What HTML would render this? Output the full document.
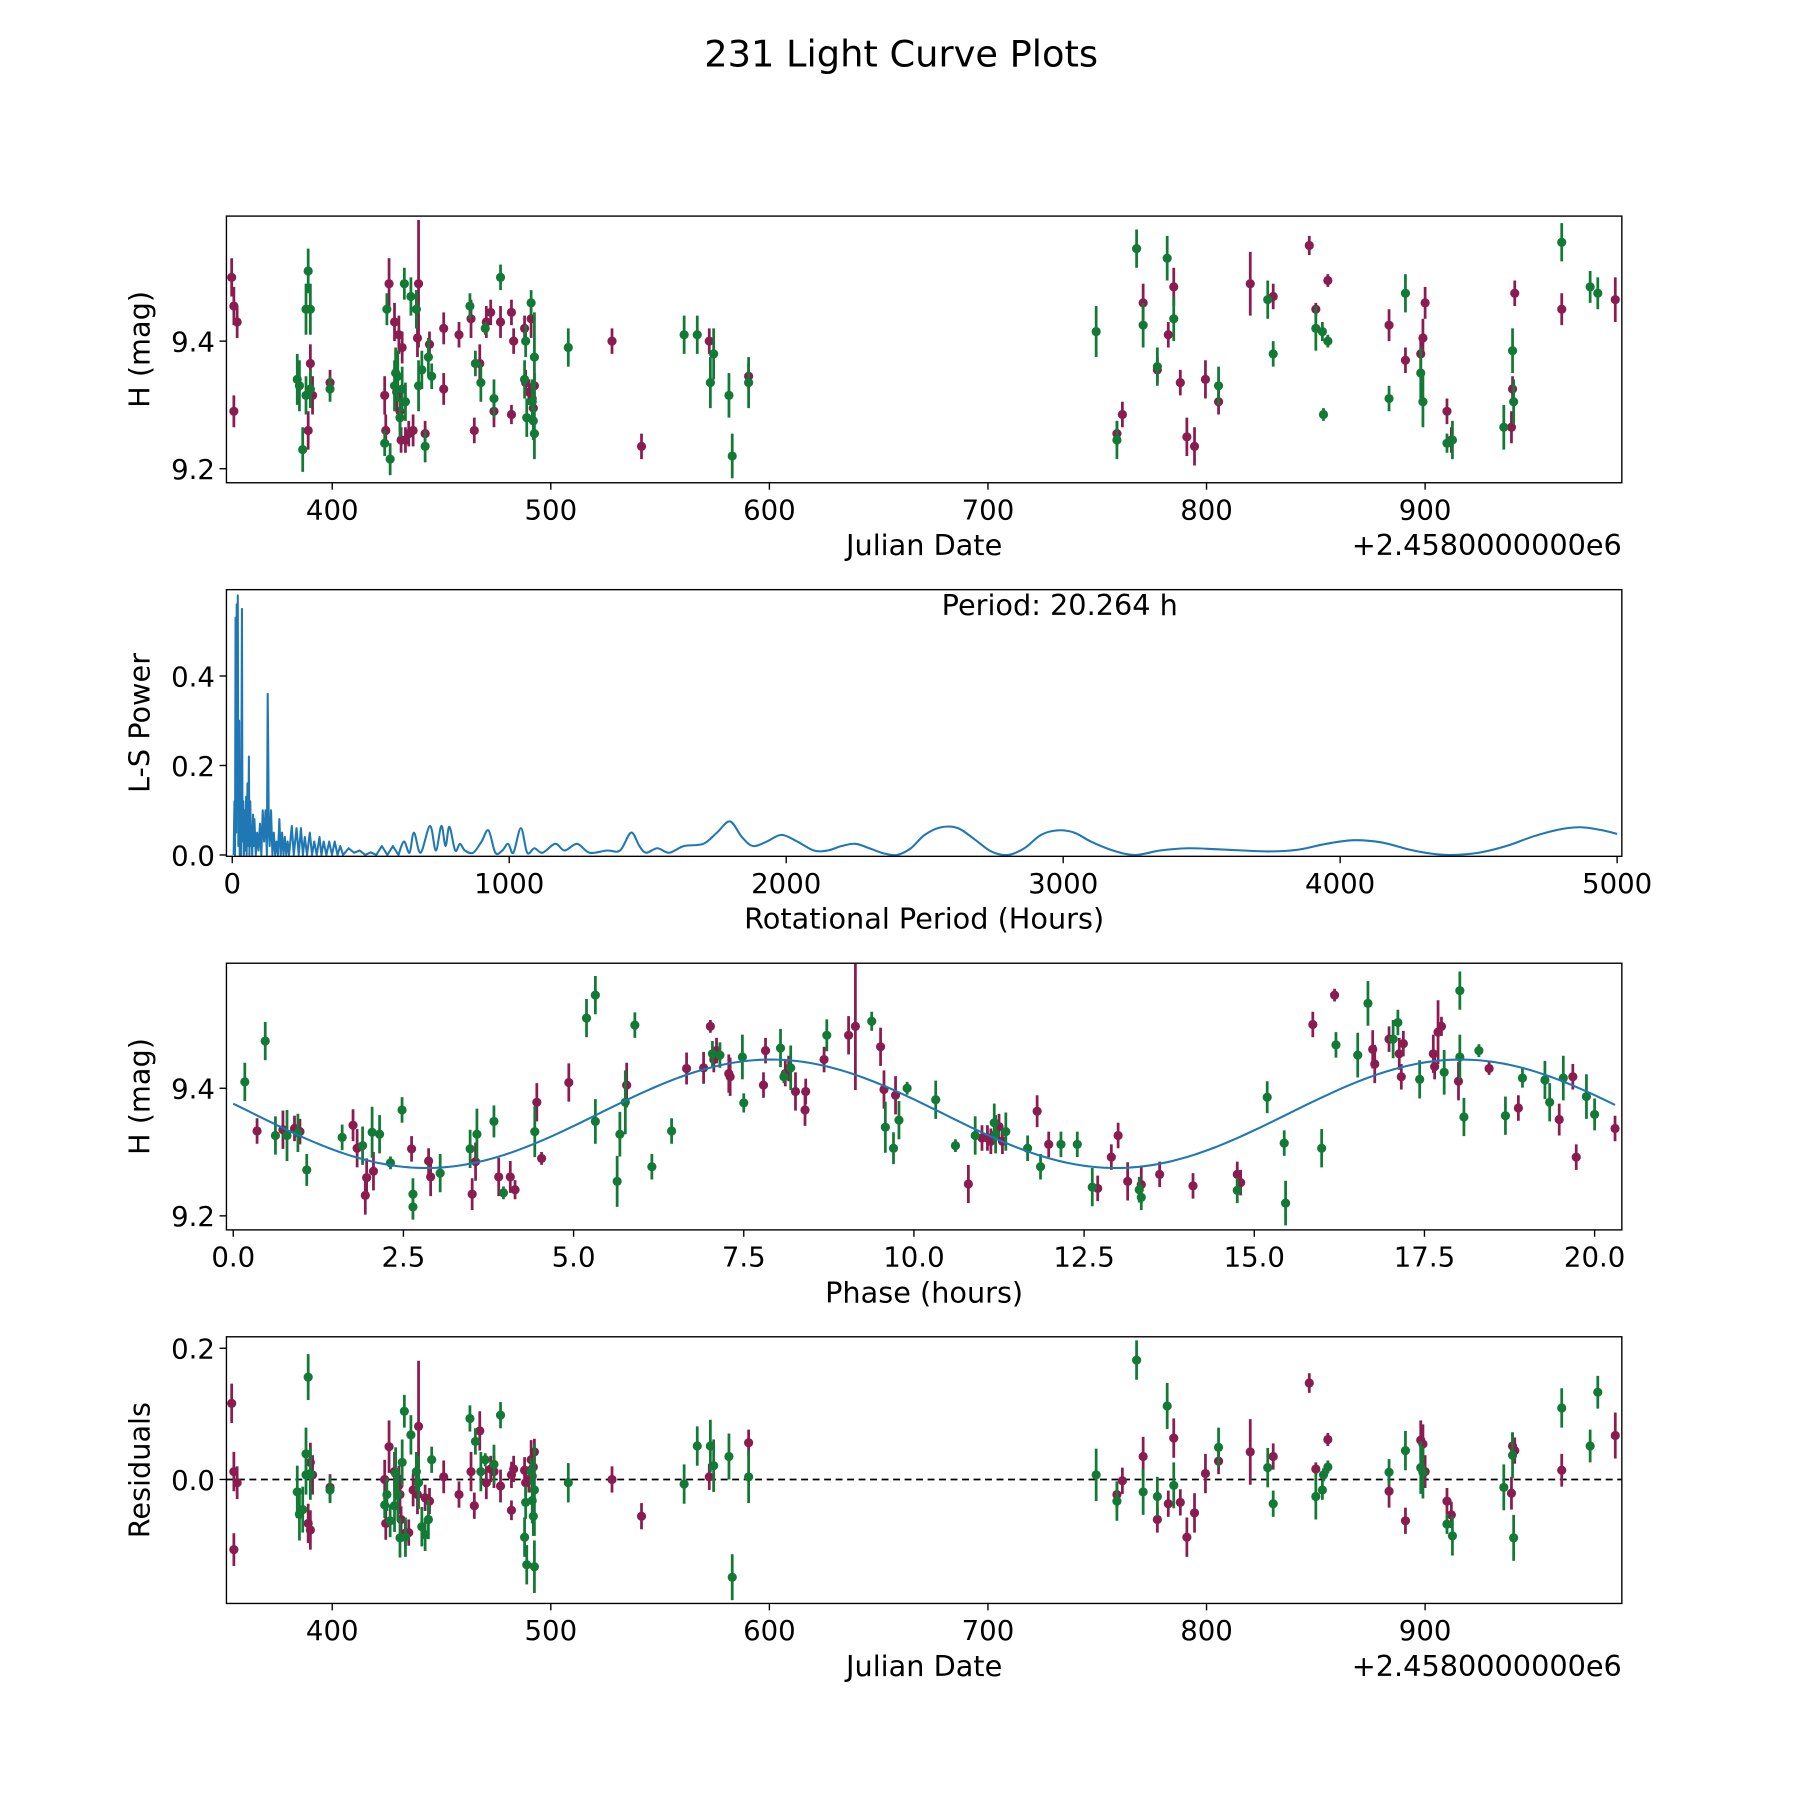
<!DOCTYPE html>
<html><head><meta charset="utf-8"><title>231 Light Curve Plots</title>
<style>html,body{margin:0;padding:0;background:#fff;}svg{display:block;}
text{font-family:"DejaVu Sans","Liberation Sans",sans-serif;fill:#000;}</style></head>
<body>
<svg id="fig" width="1800" height="1800" viewBox="0 0 1566 1566" xmlns="http://www.w3.org/2000/svg">
<rect width="1566" height="1566" fill="#fff"/>
<text x="784" y="58" font-size="32" text-anchor="middle">231 Light Curve Plots</text>
</svg>
<script>
// ---- data: raw light curve [jd, mag, err]
const lcMaroon=[[354,9.50,.03],[355,9.455,.03],[356.5,9.43,.025],[355,9.29,.025],[389,9.26,.03],[390,9.365,.03],[391,9.315,.03],[399,9.335,.02],[424,9.315,.03],[424.5,9.26,.025],[426,9.49,.04],[428.5,9.43,.03],[430.5,9.41,.03],[432,9.39,.025],[429.5,9.32,.03],[431,9.29,.03],[431.5,9.245,.02],[433.5,9.245,.02],[435,9.255,.02],[437,9.26,.025],[439.5,9.49,.1],[439,9.405,.03],[442.5,9.255,.02],[444.5,9.395,.02],[451,9.42,.025],[451,9.325,.025],[458,9.41,.02],[463.5,9.435,.03],[465,9.26,.02],[467.5,9.365,.03],[470.5,9.43,.025],[472.5,9.445,.02],[474,9.29,.025],[477,9.43,.025],[482,9.445,.02],[482,9.285,.015],[483,9.40,.02],[488,9.42,.02],[488.5,9.335,.02],[490,9.32,.02],[491,9.435,.03],[491.5,9.31,.02],[492.5,9.33,.02],[492,9.295,.02],[528,9.40,.02],[541.5,9.235,.02],[572.5,9.40,.02],[590.5,9.345,.02],
[759,9.255,.02],[761.5,9.285,.02],[771,9.46,.03],[777.5,9.355,.02],[782.5,9.41,.02],[785,9.485,.03],[788,9.335,.02],[791,9.25,.03],[794.5,9.235,.03],[799.5,9.34,.03],[805.5,9.305,.02],[820,9.49,.05],[830.5,9.47,.02],[847,9.55,.015],[850,9.45,.01],[855.5,9.495,.01],[883.5,9.425,.025],[891,9.37,.02],[898,9.38,.03],[899,9.405,.03],[900,9.46,.025],[910,9.29,.02],[912,9.245,.02],[940,9.325,.02],[939.5,9.265,.025],[941,9.475,.02],[962.5,9.45,.025],[987,9.465,.035]];
const lcGreen=[[384,9.34,.04],[385,9.33,.04],[386.5,9.23,.035],[388,9.45,.04],[389,9.51,.035],[390,9.45,.04],[388,9.315,.03],[390,9.325,.03],[399,9.325,.02],[424,9.24,.02],[425,9.45,.025],[426.5,9.215,.025],[428.5,9.33,.04],[429,9.35,.04],[430,9.345,.04],[431,9.28,.03],[432,9.325,.035],[433,9.49,.025],[433.5,9.305,.03],[436,9.47,.03],[438.5,9.45,.03],[439.5,9.33,.04],[442.5,9.235,.025],[441,9.355,.03],[444,9.375,.03],[445.5,9.345,.02],[463,9.455,.02],[465.5,9.365,.02],[468,9.335,.03],[470,9.42,.01],[474,9.31,.03],[477,9.50,.02],[488,9.34,.03],[488.5,9.40,.025],[489,9.28,.03],[491,9.46,.02],[491.5,9.305,.035],[492,9.275,.03],[492.5,9.375,.07],[492.5,9.255,.04],[508,9.39,.03],[561,9.41,.03],[567,9.41,.03],[573,9.335,.04],[574.5,9.38,.04],[581.5,9.315,.035],[583,9.22,.035],[590.5,9.335,.04],
[749.5,9.415,.04],[759,9.245,.03],[768,9.545,.03],[771,9.425,.035],[777.5,9.36,.03],[782,9.53,.035],[785,9.435,.035],[805.5,9.33,.03],[828,9.465,.03],[830.5,9.38,.02],[850,9.42,.035],[853,9.415,.015],[853.5,9.285,.01],[855.5,9.40,.01],[883.5,9.31,.02],[891,9.475,.03],[898,9.35,.04],[899,9.305,.04],[910,9.24,.015],[912.5,9.245,.03],[936,9.265,.035],[940,9.385,.035],[940.5,9.305,.035],[962.5,9.555,.03],[975.5,9.485,.025],[979,9.475,.025]];
// ---- residuals [jd, residual, err]
const resMaroon=[[354,.116,.03],[355,.012,.03],[355,-.107,.025],[356.5,-.005,.025],[389,-.067,.03],[390,.026,.03],[390,-.077,.03],[391,.007,.03],[399,-.012,.02],[424,0,.03],[424.5,-.067,.025],[426,.05,.04],[428.5,.012,.03],[430.5,-.009,.03],[431,-.023,.03],[431.5,-.061,.02],[433.5,-.082,.02],[435,-.081,.02],[437,-.016,.025],[439.5,.081,.1],[439,-.023,.03],[442.5,-.028,.02],[444.5,-.033,.02],[451,.004,.025],[458,-.023,.02],[463.5,.012,.03],[465,-.04,.02],[467.5,.074,.03],[470.5,-.005,.025],[472.5,.016,.02],[474,.012,.025],[477,-.01,.025],[482,.007,.02],[482,-.047,.015],[483,.016,.02],[488,.014,.02],[488.5,-.005,.02],[490,0,.02],[491,.03,.03],[491.5,.005,.02],[492.5,.042,.02],[492,.019,.02],[528,0,.02],[541.5,-.056,.02],[572.5,.004,.02],[590.5,.056,.02],
[759,-.023,.02],[761.5,-.002,.02],[771,.035,.03],[777.5,-.061,.02],[782.5,-.037,.02],[785,.063,.03],[788,-.035,.02],[791,-.088,.03],[794.5,-.051,.03],[799.5,.009,.03],[805.5,.028,.02],[820,.042,.05],[830.5,.035,.02],[847,.147,.015],[850,.016,.01],[855.5,.061,.01],[883.5,-.018,.025],[891,-.063,.02],[898,.06,.03],[899,.054,.03],[900,.012,.025],[910,-.033,.02],[912,-.054,.02],[940,.051,.02],[939.5,-.021,.025],[941,.044,.02],[962.5,.014,.025],[987,.067,.035]];
const resGreen=[[384,-.019,.04],[385,-.053,.04],[386.5,-.046,.035],[388,.039,.04],[389,.156,.035],[390,.009,.04],[388,.007,.03],[390,.007,.03],[399,-.016,.02],[424,-.039,.02],[425,-.023,.025],[426.5,-.063,.025],[428.5,-.04,.04],[429,.009,.04],[430,-.023,.04],[431,-.089,.03],[432,.026,.035],[433,.104,.025],[433.5,-.088,.03],[436,.068,.03],[438.5,.012,.03],[439.5,-.005,.04],[442.5,-.084,.025],[441,-.072,.03],[444,-.061,.03],[445.5,.03,.02],[463,.093,.02],[465.5,.058,.02],[468,.012,.03],[470,.03,.01],[474,.023,.03],[477,.098,.02],[488,-.088,.03],[488.5,-.035,.025],[489,-.13,.03],[491,.012,.02],[491.5,-.032,.035],[492,-.056,.03],[492.5,-.016,.07],[492.5,-.133,.04],[508,-.005,.03],[561,-.007,.03],[567,.051,.03],[573,.051,.04],[574.5,.021,.04],[581.5,.035,.035],[583,-.149,.035],[590.5,.004,.04],
[749.5,.007,.04],[759,-.033,.03],[768,.182,.03],[771,-.019,.035],[777.5,-.026,.03],[782,.112,.035],[785,-.009,.035],[805.5,.049,.03],[828,.018,.03],[830.5,-.037,.02],[850,-.026,.035],[853,-.016,.015],[853.5,.007,.01],[855.5,.019,.01],[883.5,.011,.02],[891,.044,.03],[898,.018,.04],[899,.011,.04],[910,-.068,.015],[912.5,-.086,.03],[936,-.012,.035],[940,.037,.035],[940.5,-.089,.035],[962.5,.109,.03],[975.5,.051,.025],[979,.133,.025]];
// ---- phased [phase, mag, err]
const phMaroon=[[.35,9.333,.02],[.73,9.335,.03],[.9,9.337,.02],[.98,9.332,.02],[1.76,9.342,.025],[1.82,9.306,.03],[1.94,9.232,.03],[1.96,9.26,.03],[2.06,9.27,.03],[2.62,9.305,.02],[2.87,9.286,.02],[2.9,9.261,.03],[3.51,9.234,.025],[3.56,9.285,.03],[3.9,9.261,.03],[4.07,9.261,.025],[4.14,9.241,.015],[4.46,9.378,.03],[4.53,9.29,.01],[4.93,9.409,.03],[5.78,9.405,.035],[6.66,9.431,.025],[6.91,9.432,.025],[7.01,9.497,.01],[7.06,9.445,.02],[7.1,9.459,.02],[7.28,9.423,.03],[7.3,9.418,.03],[7.79,9.405,.02],[7.82,9.459,.02],[8.11,9.423,.02],[8.16,9.431,.02],[8.26,9.395,.03],[8.4,9.366,.025],[8.41,9.395,.02],[8.68,9.445,.02],[9.04,9.483,.03],[9.14,9.497,.1],[9.51,9.465,.03],[9.56,9.398,.03],[9.73,9.389,.03],[10.8,9.25,.03],[11.0,9.322,.02],[11.08,9.322,.02],[11.13,9.317,.02],[11.25,9.34,.02],[11.3,9.317,.02],[11.81,9.364,.025],[11.98,9.312,.02],[12.7,9.243,.02],[12.9,9.292,.02],[13.0,9.326,.02],[13.14,9.254,.03],[13.34,9.249,.03],[13.61,9.265,.02],[14.1,9.247,.02],[14.75,9.265,.02],[14.8,9.252,.02],[15.86,9.5,.02],[16.18,9.546,.01],[16.74,9.461,.03],[16.77,9.438,.03],[16.98,9.477,.02],[17.13,9.454,.025],[17.16,9.418,.02],[17.19,9.47,.02],[17.63,9.454,.03],[17.65,9.434,.02],[17.7,9.488,.05],[17.75,9.497,.015],[18.0,9.411,.03],[18.45,9.431,.01],[18.88,9.369,.02],[19.48,9.351,.025],[19.68,9.418,.02],[19.73,9.292,.02],[20.3,9.337,.02]];
const phGreen=[[.17,9.41,.03],[.47,9.474,.03],[.62,9.326,.03],[.79,9.326,.04],[.95,9.33,.03],[1.08,9.272,.025],[1.6,9.323,.02],[1.9,9.31,.03],[2.04,9.331,.04],[2.15,9.328,.03],[2.31,9.283,.01],[2.48,9.366,.02],[2.64,9.234,.025],[2.64,9.214,.02],[3.04,9.267,.03],[3.48,9.305,.03],[3.58,9.328,.04],[3.83,9.348,.025],[3.97,9.236,.01],[4.43,9.332,.04],[5.19,9.51,.03],[5.32,9.546,.03],[5.32,9.348,.035],[5.64,9.254,.04],[5.68,9.328,.035],[5.76,9.378,.05],[5.9,9.499,.02],[6.15,9.277,.02],[6.44,9.333,.02],[7.04,9.454,.02],[7.15,9.452,.02],[7.48,9.449,.035],[7.5,9.377,.015],[8.04,9.463,.03],[8.09,9.418,.01],[8.19,9.432,.035],[8.72,9.483,.025],[9.38,9.505,.015],[9.58,9.339,.04],[9.7,9.306,.025],[9.78,9.35,.03],[9.9,9.4,.01],[10.32,9.382,.03],[10.61,9.31,.01],[10.9,9.326,.03],[11.18,9.346,.03],[11.2,9.328,.03],[11.35,9.332,.03],[11.67,9.306,.02],[11.86,9.277,.02],[12.16,9.312,.02],[12.4,9.312,.02],[12.62,9.245,.03],[13.31,9.241,.02],[13.34,9.229,.02],[14.75,9.24,.02],[15.19,9.386,.025],[15.44,9.314,.02],[15.46,9.22,.035],[15.99,9.306,.03],[16.2,9.468,.02],[16.52,9.452,.035],[16.67,9.533,.035],[17.04,9.477,.03],[17.11,9.503,.02],[17.43,9.414,.03],[17.79,9.425,.035],[18.02,9.553,.03],[18.02,9.449,.035],[18.08,9.355,.03],[18.3,9.459,.01],[18.69,9.357,.03],[18.94,9.416,.015],[19.27,9.413,.03],[19.34,9.378,.03],[19.54,9.416,.035],[19.88,9.387,.035],[20.0,9.359,.025]];
// ---- sinusoid fit parameters
const fitMean=9.36, fitAmp=0.085, fitHalfPeriod=10.132, fitPeakPhase=7.9;
// ---- periodogram [period (h), power]
const lsSpiky=[[5,0],[8,.12],[10,0],[12,.53],[14,.05],[16,.56],[18,.1],[20,.58],[22,.02],[25,.3],[27,0],[30,.2],[32,0],[35,.55],[37,.03],[40,.12],[42,0],[45,.1],[48,.01],[50,.13],[52,0],[55,.16],[58,.02],[60,.22],[62,0],[65,.12],[68,.02],[70,.06],[72,0],[75,.09],[78,.02],[80,.08],[85,0],[90,.05],[95,.01],[100,.07],[105,0],[110,.1],[115,.03],[120,.1],[125,0],[128,.36],[130,.22],[132,.05],[135,.02],[140,.1],[145,0],[150,.05],[155,0],[160,.03],[165,0],[170,.08],[175,0],[180,.05],[185,0],[190,.04],[195,0],[200,.03],[205,0],[215,.065],[222,0],[232,.06],[240,0],[248,.06],[255,0],[262,.04],[270,0],[280,.05],[288,0],[296,.03],[305,0],[315,.04],[322,0],[330,.03],[340,0],[350,.03],[360,0],[370,.03],[380,0],[390,.02],[400,0],[420,.015],[440,.005],[460,.01],[480,0],[500,.006],[520,0],[540,.02],[560,0],[580,.02],[600,0]];
const lsSmooth=[[620,.03],[640,.005],[656,.05],[680,.005],[714,.065],[735,.01],[755,.065],[770,.02],[784,.063],[805,.01],[822,.025],[840,.01],[870,.005],[900,.03],[925,.055],[950,.005],[975,.01],[996,.025],[1015,.005],[1042,.06],[1065,.005],[1091,.015],[1120,.005],[1166,.025],[1200,.01],[1245,.025],[1290,.005],[1353,.01],[1400,.01],[1440,.05],[1470,.02],[1494,.005],[1535,.015],[1577,.005],[1631,.02],[1701,.025],[1750,.05],[1797,.075],[1840,.04],[1880,.02],[1930,.03],[1983,.045],[2040,.03],[2100,.01],[2150,.01],[2200,.02],[2250,.025],[2300,.015],[2350,.004],[2400,0],[2450,.015],[2500,.045],[2560,.062],[2620,.06],[2680,.035],[2740,.008],[2800,0],[2860,.015],[2920,.045],[2980,.055],[3040,.05],[3100,.03],[3180,.01],[3260,0],[3350,.01],[3450,.015],[3550,.013],[3650,.01],[3750,.008],[3850,.012],[3950,.025],[4050,.033],[4150,.028],[4250,.012],[4330,.003],[4400,0],[4500,.005],[4600,.02],[4700,.042],[4800,.058],[4870,.062],[4940,.056],[5000,.047]];
// ---- tick labels
const jdTicks=[400,500,600,700,800,900];
const magTicks=[9.2,9.4];
const lsXTicks=[0,1000,2000,3000,4000,5000];
const lsYTicks=[0.0,0.2,0.4];
const phTicks=[0,2.5,5,7.5,10,12.5,15,17.5,20];
const resTicks=[0.0,0.2];

const NS='http://www.w3.org/2000/svg';
const svg=document.getElementById('fig');
const MAROON='#8a1c4f', GREEN='#137a36', BLUE='#1f77b4';
function el(tag,attrs,parent,txt){const e=document.createElementNS(NS,tag);for(const k in attrs)e.setAttribute(k,attrs[k]);if(txt!==undefined)e.textContent=txt;(parent||svg).appendChild(e);return e;}
function lin(d0,d1,p0,p1){return v=>p0+(v-d0)*(p1-p0)/(d1-d0);}
const L=197,R=1411;
const axes=[
 {name:'light-curve-panel',top:188,bot:420,x:lin(351.6,990,L,R),y:lin(9.596,9.178,188,420),xt:jdTicks,yt:magTicks,xf:v=>String(v),yf:v=>v.toFixed(1),xl:'Julian Date',yl:'H (mag)',off:true},
 {name:'periodogram-panel',top:513,bot:745,x:lin(-21,5017,L,R),y:lin(0.593,-0.003,513,745),xt:lsXTicks,yt:lsYTicks,xf:v=>String(v),yf:v=>v.toFixed(1),xl:'Rotational Period (Hours)',yl:'L-S Power'},
 {name:'phase-panel',top:838,bot:1070,x:lin(-0.1,20.4,L,R),y:lin(9.596,9.178,838,1070),xt:phTicks,yt:magTicks,xf:v=>v.toFixed(1),yf:v=>v.toFixed(1),xl:'Phase (hours)',yl:'H (mag)'},
 {name:'residuals-panel',top:1163,bot:1395,x:lin(351.6,990,L,R),y:lin(0.2175,-0.189,1163,1395),xt:jdTicks,yt:resTicks,xf:v=>String(v),yf:v=>v.toFixed(1),xl:'Julian Date',yl:'Residuals',off:true}
];
const groups=axes.map(a=>{
 const g=el('g',{});
 
 
 const cid='clip-'+a.name;
 const cp=el('clipPath',{id:cid},g);el('rect',{x:L,y:a.top,width:R-L,height:a.bot-a.top},cp);
 a.plot=el('g',{'clip-path':'url(#'+cid+')'},g);
 a.g=g;return a;});
function drawAxes(a){
 const g=a.g;
 a.xt.forEach(v=>{const x=a.x(v);
  const t=el('line',{x1:x,x2:x,y1:a.bot,y2:a.bot+6,stroke:'#000','stroke-width':1.2},g);
  
  const l=el('text',{x:x,y:a.bot+32,'font-size':24,'text-anchor':'middle'},g,a.xf(v));
  });
 a.yt.forEach(v=>{const y=a.y(v);
  const t=el('line',{x1:L-6,x2:L,y1:y,y2:y,stroke:'#000','stroke-width':1.2},g);
  
  const l=el('text',{x:L-10,y:y+9,'font-size':24,'text-anchor':'end'},g,a.yf(v));
  });
 const fr=el('rect',{x:L,y:a.top,width:R-L,height:a.bot-a.top,fill:'none',stroke:'#000','stroke-width':1.2},g);
 
 const xl=el('text',{x:804,y:a.bot+63,'font-size':25,'text-anchor':'middle'},g,a.xl);
 
 const cy=(a.top+a.bot)/2;
 const yl=el('text',{x:130,y:cy,'font-size':25,'text-anchor':'middle',transform:'rotate(-90 130 '+cy+')'},g,a.yl);
 
 if(a.off){const o=el('text',{x:R,y:a.bot+63,'font-size':25,'text-anchor':'end'},g,'+2.4580000000e6');
  }
}
function drawPoints(a,data,color,name){
 data.forEach(p=>{const x=a.x(p[0]);
  const bar=el('line',{x1:x,x2:x,y1:a.y(p[1]-p[2]),y2:a.y(p[1]+p[2]),stroke:color,'stroke-width':2.4},a.plot);
  
  const c=el('circle',{cx:x,cy:a.y(p[1]),r:4,fill:color},a.plot);
  });
}
const [A1,A2,A3,A4]=groups;
drawPoints(A1,lcMaroon,MAROON,'maroon');drawPoints(A1,lcGreen,GREEN,'green');
// periodogram line: spiky part linear, smooth part via Catmull-Rom
let d='';lsSpiky.forEach((p,i)=>{d+=(i?'L':'M')+A2.x(p[0]).toFixed(2)+' '+A2.y(p[1]).toFixed(2);});
const sm=[lsSpiky[lsSpiky.length-1]].concat(lsSmooth).map(p=>[A2.x(p[0]),A2.y(p[1])]);
for(let i=0;i<sm.length-1;i++){const p0=sm[Math.max(0,i-1)],p1=sm[i],p2=sm[i+1],p3=sm[Math.min(sm.length-1,i+2)];
 const c1=[p1[0]+(p2[0]-p0[0])/6,p1[1]+(p2[1]-p0[1])/6],c2=[p2[0]-(p3[0]-p1[0])/6,p2[1]-(p3[1]-p1[1])/6];
 d+='C'+c1[0].toFixed(2)+' '+c1[1].toFixed(2)+' '+c2[0].toFixed(2)+' '+c2[1].toFixed(2)+' '+p2[0].toFixed(2)+' '+p2[1].toFixed(2);}
const ls=el('path',{d:d,fill:'none',stroke:BLUE,'stroke-width':1.8,'stroke-linejoin':'round'},A2.plot);

const pt=el('text',{x:922,y:535,'font-size':25,'text-anchor':'middle'},A2.g,'Period: 20.264 h');

// phase panel
drawPoints(A3,phMaroon,MAROON,'maroon');drawPoints(A3,phGreen,GREEN,'green');
let fd='';for(let i=0;i<=300;i++){const t=20.3*i/300;const m=fitMean+fitAmp*Math.cos(2*Math.PI*(t-fitPeakPhase)/fitHalfPeriod);fd+=(i?'L':'M')+A3.x(t).toFixed(2)+' '+A3.y(m).toFixed(2);}
const fit=el('path',{d:fd,fill:'none',stroke:BLUE,'stroke-width':1.8},A3.plot);

// residuals
const zl=el('line',{x1:L,x2:R,y1:A4.y(0),y2:A4.y(0),stroke:'#000','stroke-width':1.5,'stroke-dasharray':'6 4'},A4.plot);

drawPoints(A4,resMaroon,MAROON,'maroon');drawPoints(A4,resGreen,GREEN,'green');
groups.forEach(drawAxes);
</script>
</body></html>
